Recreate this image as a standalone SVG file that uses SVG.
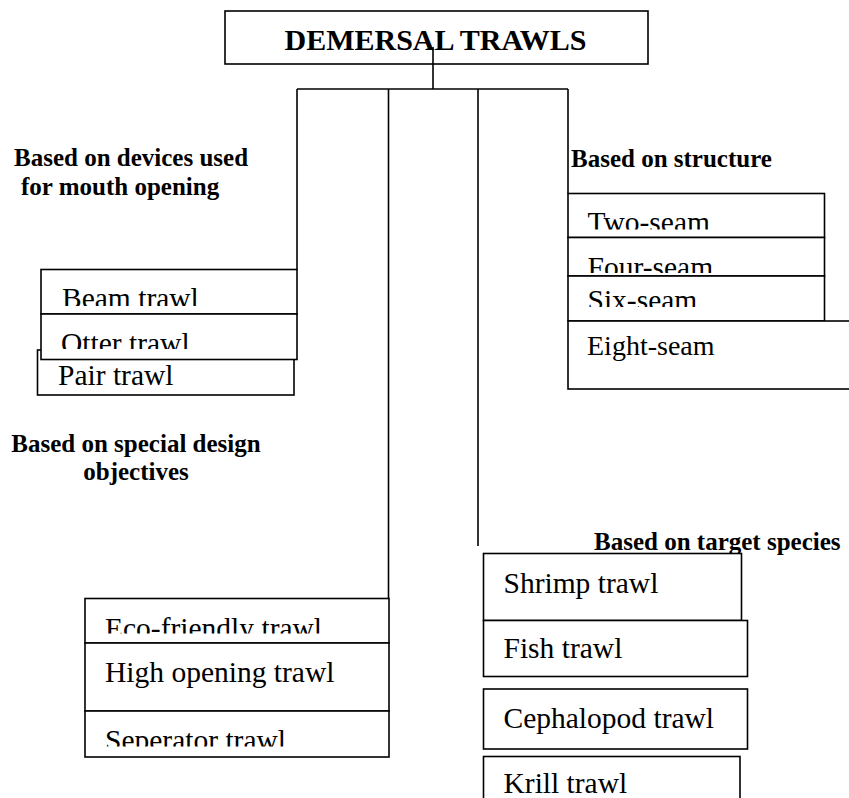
<svg xmlns="http://www.w3.org/2000/svg" width="849" height="798" viewBox="0 0 849 798">
<style>
.box{fill:#fff;stroke:#000;stroke-width:1.6}
.t{font-family:"Liberation Serif","Times New Roman",serif;font-size:29.5px;fill:#000}
.lbl{font-family:"Liberation Serif","Times New Roman",serif;font-size:25px;font-weight:bold;fill:#000}
.title{font-family:"Liberation Serif","Times New Roman",serif;font-size:30px;font-weight:bold;fill:#000}
.conn{stroke:#000;stroke-width:1.6;fill:none}
</style>
<defs>
<clipPath id="cBeam"><rect x="41" y="270" width="256" height="36"/></clipPath>
<clipPath id="cOtter"><rect x="41" y="315" width="256" height="34"/></clipPath>
<clipPath id="cTwo"><rect x="568" y="194" width="256" height="35.5"/></clipPath>
<clipPath id="cFour"><rect x="568" y="238" width="256" height="35"/></clipPath>
<clipPath id="cSix"><rect x="568" y="277" width="256" height="30"/></clipPath>
<clipPath id="cEco"><rect x="85" y="599" width="304" height="34.5"/></clipPath>
<clipPath id="cSep"><rect x="85" y="712" width="304" height="34.5"/></clipPath>
</defs>

<g id="title">
<rect class="box" x="225" y="11" width="423" height="53"/>
<text class="title" x="435.5" y="50" text-anchor="middle">DEMERSAL TRAWLS</text>
</g>

<g id="labels">
<text class="lbl" x="14" y="166">Based on devices used</text>
<text class="lbl" x="21" y="195">for mouth opening</text>
<text class="lbl" x="571" y="167">Based on structure</text>
<text class="lbl" x="136" y="452" text-anchor="middle">Based on special design</text>
<text class="lbl" x="136" y="480" text-anchor="middle">objectives</text>
<text class="lbl" x="594" y="550">Based on target species</text>
</g>

<g id="pair-trawl">
<rect class="box" x="37.5" y="350" width="256.5" height="45"/>
<text class="t" x="58" y="385">Pair trawl</text>
</g>
<g id="beam-trawl">
<rect class="box" x="41" y="269.5" width="256" height="44.5"/>
<text class="t" x="62" y="308" clip-path="url(#cBeam)">Beam trawl</text>
</g>
<g id="otter-trawl">
<rect class="box" x="41" y="314" width="256" height="45.5"/>
<text class="t" x="61" y="353" clip-path="url(#cOtter)">Otter trawl</text>
</g>

<g id="two-seam">
<rect class="box" x="568" y="193.5" width="256.5" height="44"/>
<text class="t" x="587.5" y="231.6" clip-path="url(#cTwo)">Two-seam</text>
</g>
<g id="four-seam">
<rect class="box" x="568" y="237.5" width="256.5" height="38.5"/>
<text class="t" x="587.5" y="277" clip-path="url(#cFour)">Four-seam</text>
</g>
<g id="six-seam">
<rect class="box" x="568" y="276" width="256.5" height="45"/>
<text class="t" x="587.5" y="310" clip-path="url(#cSix)">Six-seam</text>
</g>
<g id="eight-seam">
<rect class="box" x="568" y="321" width="300" height="68"/>
<text class="t" x="587" y="355" style="font-size:28px">Eight-seam</text>
</g>

<g id="eco-friendly-trawl">
<rect class="box" x="85" y="598.5" width="304" height="44.5"/>
<text class="t" x="105" y="638" clip-path="url(#cEco)">Eco-friendly trawl</text>
</g>
<g id="high-opening-trawl">
<rect class="box" x="85" y="643" width="304" height="68"/>
<text class="t" x="105" y="681.7">High opening trawl</text>
</g>
<g id="seperator-trawl">
<rect class="box" x="85" y="711" width="304" height="46"/>
<text class="t" x="105" y="750" clip-path="url(#cSep)">Seperator trawl</text>
</g>

<g id="shrimp-trawl">
<rect class="box" x="483.5" y="553.5" width="258" height="67"/>
<text class="t" x="503.5" y="592.5">Shrimp trawl</text>
</g>
<g id="fish-trawl">
<rect class="box" x="483.5" y="620.5" width="264" height="56"/>
<text class="t" x="503.5" y="658">Fish trawl</text>
</g>
<g id="cephalopod-trawl">
<rect class="box" x="483.5" y="689" width="264" height="60"/>
<text class="t" x="503.5" y="727.5">Cephalopod trawl</text>
</g>
<g id="krill-trawl">
<rect class="box" x="483.5" y="756.5" width="256.5" height="60"/>
<text class="t" x="503.5" y="793">Krill trawl</text>
</g>

<g id="connectors">
<line class="conn" x1="433" y1="47" x2="433" y2="89"/>
<line class="conn" x1="297" y1="89" x2="568" y2="89"/>
<line class="conn" x1="297" y1="89" x2="297" y2="269.5"/>
<line class="conn" x1="388.5" y1="89" x2="388.5" y2="598.5"/>
<line class="conn" x1="478" y1="89" x2="478" y2="546"/>
<line class="conn" x1="568" y1="89" x2="568" y2="193.5"/>
</g>
</svg>
